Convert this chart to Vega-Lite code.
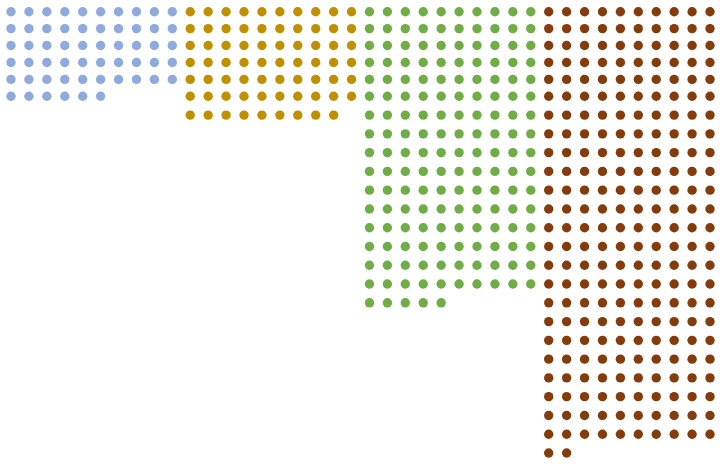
{
  "$schema": "https://vega.github.io/schema/vega-lite/v6.json",
  "description": "Waffle-style dot chart, one dot per unit, four groups of ten columns.",
  "width": 724,
  "height": 471,
  "autosize": "none",
  "padding": 0,
  "background": "white",
  "config": {"view": {"stroke": null}},
  "data": {
    "values": [
      {"group":"A"},{"group":"A"},{"group":"A"},{"group":"A"},{"group":"A"},{"group":"A"},{"group":"A"},{"group":"A"},{"group":"A"},{"group":"A"},
      {"group":"A"},{"group":"A"},{"group":"A"},{"group":"A"},{"group":"A"},{"group":"A"},{"group":"A"},{"group":"A"},{"group":"A"},{"group":"A"},
      {"group":"A"},{"group":"A"},{"group":"A"},{"group":"A"},{"group":"A"},{"group":"A"},{"group":"A"},{"group":"A"},{"group":"A"},{"group":"A"},
      {"group":"A"},{"group":"A"},{"group":"A"},{"group":"A"},{"group":"A"},{"group":"A"},{"group":"A"},{"group":"A"},{"group":"A"},{"group":"A"},
      {"group":"A"},{"group":"A"},{"group":"A"},{"group":"A"},{"group":"A"},{"group":"A"},{"group":"A"},{"group":"A"},{"group":"A"},{"group":"A"},
      {"group":"A"},{"group":"A"},{"group":"A"},{"group":"A"},{"group":"A"},{"group":"A"},

      {"group":"B"},{"group":"B"},{"group":"B"},{"group":"B"},{"group":"B"},{"group":"B"},{"group":"B"},{"group":"B"},{"group":"B"},{"group":"B"},
      {"group":"B"},{"group":"B"},{"group":"B"},{"group":"B"},{"group":"B"},{"group":"B"},{"group":"B"},{"group":"B"},{"group":"B"},{"group":"B"},
      {"group":"B"},{"group":"B"},{"group":"B"},{"group":"B"},{"group":"B"},{"group":"B"},{"group":"B"},{"group":"B"},{"group":"B"},{"group":"B"},
      {"group":"B"},{"group":"B"},{"group":"B"},{"group":"B"},{"group":"B"},{"group":"B"},{"group":"B"},{"group":"B"},{"group":"B"},{"group":"B"},
      {"group":"B"},{"group":"B"},{"group":"B"},{"group":"B"},{"group":"B"},{"group":"B"},{"group":"B"},{"group":"B"},{"group":"B"},{"group":"B"},
      {"group":"B"},{"group":"B"},{"group":"B"},{"group":"B"},{"group":"B"},{"group":"B"},{"group":"B"},{"group":"B"},{"group":"B"},{"group":"B"},
      {"group":"B"},{"group":"B"},{"group":"B"},{"group":"B"},{"group":"B"},{"group":"B"},{"group":"B"},{"group":"B"},{"group":"B"},

      {"group":"C"},{"group":"C"},{"group":"C"},{"group":"C"},{"group":"C"},{"group":"C"},{"group":"C"},{"group":"C"},{"group":"C"},{"group":"C"},
      {"group":"C"},{"group":"C"},{"group":"C"},{"group":"C"},{"group":"C"},{"group":"C"},{"group":"C"},{"group":"C"},{"group":"C"},{"group":"C"},
      {"group":"C"},{"group":"C"},{"group":"C"},{"group":"C"},{"group":"C"},{"group":"C"},{"group":"C"},{"group":"C"},{"group":"C"},{"group":"C"},
      {"group":"C"},{"group":"C"},{"group":"C"},{"group":"C"},{"group":"C"},{"group":"C"},{"group":"C"},{"group":"C"},{"group":"C"},{"group":"C"},
      {"group":"C"},{"group":"C"},{"group":"C"},{"group":"C"},{"group":"C"},{"group":"C"},{"group":"C"},{"group":"C"},{"group":"C"},{"group":"C"},
      {"group":"C"},{"group":"C"},{"group":"C"},{"group":"C"},{"group":"C"},{"group":"C"},{"group":"C"},{"group":"C"},{"group":"C"},{"group":"C"},
      {"group":"C"},{"group":"C"},{"group":"C"},{"group":"C"},{"group":"C"},{"group":"C"},{"group":"C"},{"group":"C"},{"group":"C"},{"group":"C"},
      {"group":"C"},{"group":"C"},{"group":"C"},{"group":"C"},{"group":"C"},{"group":"C"},{"group":"C"},{"group":"C"},{"group":"C"},{"group":"C"},
      {"group":"C"},{"group":"C"},{"group":"C"},{"group":"C"},{"group":"C"},{"group":"C"},{"group":"C"},{"group":"C"},{"group":"C"},{"group":"C"},
      {"group":"C"},{"group":"C"},{"group":"C"},{"group":"C"},{"group":"C"},{"group":"C"},{"group":"C"},{"group":"C"},{"group":"C"},{"group":"C"},
      {"group":"C"},{"group":"C"},{"group":"C"},{"group":"C"},{"group":"C"},{"group":"C"},{"group":"C"},{"group":"C"},{"group":"C"},{"group":"C"},
      {"group":"C"},{"group":"C"},{"group":"C"},{"group":"C"},{"group":"C"},{"group":"C"},{"group":"C"},{"group":"C"},{"group":"C"},{"group":"C"},
      {"group":"C"},{"group":"C"},{"group":"C"},{"group":"C"},{"group":"C"},{"group":"C"},{"group":"C"},{"group":"C"},{"group":"C"},{"group":"C"},
      {"group":"C"},{"group":"C"},{"group":"C"},{"group":"C"},{"group":"C"},{"group":"C"},{"group":"C"},{"group":"C"},{"group":"C"},{"group":"C"},
      {"group":"C"},{"group":"C"},{"group":"C"},{"group":"C"},{"group":"C"},{"group":"C"},{"group":"C"},{"group":"C"},{"group":"C"},{"group":"C"},
      {"group":"C"},{"group":"C"},{"group":"C"},{"group":"C"},{"group":"C"},{"group":"C"},{"group":"C"},{"group":"C"},{"group":"C"},{"group":"C"},
      {"group":"C"},{"group":"C"},{"group":"C"},{"group":"C"},{"group":"C"},

      {"group":"D"},{"group":"D"},{"group":"D"},{"group":"D"},{"group":"D"},{"group":"D"},{"group":"D"},{"group":"D"},{"group":"D"},{"group":"D"},
      {"group":"D"},{"group":"D"},{"group":"D"},{"group":"D"},{"group":"D"},{"group":"D"},{"group":"D"},{"group":"D"},{"group":"D"},{"group":"D"},
      {"group":"D"},{"group":"D"},{"group":"D"},{"group":"D"},{"group":"D"},{"group":"D"},{"group":"D"},{"group":"D"},{"group":"D"},{"group":"D"},
      {"group":"D"},{"group":"D"},{"group":"D"},{"group":"D"},{"group":"D"},{"group":"D"},{"group":"D"},{"group":"D"},{"group":"D"},{"group":"D"},
      {"group":"D"},{"group":"D"},{"group":"D"},{"group":"D"},{"group":"D"},{"group":"D"},{"group":"D"},{"group":"D"},{"group":"D"},{"group":"D"},
      {"group":"D"},{"group":"D"},{"group":"D"},{"group":"D"},{"group":"D"},{"group":"D"},{"group":"D"},{"group":"D"},{"group":"D"},{"group":"D"},
      {"group":"D"},{"group":"D"},{"group":"D"},{"group":"D"},{"group":"D"},{"group":"D"},{"group":"D"},{"group":"D"},{"group":"D"},{"group":"D"},
      {"group":"D"},{"group":"D"},{"group":"D"},{"group":"D"},{"group":"D"},{"group":"D"},{"group":"D"},{"group":"D"},{"group":"D"},{"group":"D"},
      {"group":"D"},{"group":"D"},{"group":"D"},{"group":"D"},{"group":"D"},{"group":"D"},{"group":"D"},{"group":"D"},{"group":"D"},{"group":"D"},
      {"group":"D"},{"group":"D"},{"group":"D"},{"group":"D"},{"group":"D"},{"group":"D"},{"group":"D"},{"group":"D"},{"group":"D"},{"group":"D"},
      {"group":"D"},{"group":"D"},{"group":"D"},{"group":"D"},{"group":"D"},{"group":"D"},{"group":"D"},{"group":"D"},{"group":"D"},{"group":"D"},
      {"group":"D"},{"group":"D"},{"group":"D"},{"group":"D"},{"group":"D"},{"group":"D"},{"group":"D"},{"group":"D"},{"group":"D"},{"group":"D"},
      {"group":"D"},{"group":"D"},{"group":"D"},{"group":"D"},{"group":"D"},{"group":"D"},{"group":"D"},{"group":"D"},{"group":"D"},{"group":"D"},
      {"group":"D"},{"group":"D"},{"group":"D"},{"group":"D"},{"group":"D"},{"group":"D"},{"group":"D"},{"group":"D"},{"group":"D"},{"group":"D"},
      {"group":"D"},{"group":"D"},{"group":"D"},{"group":"D"},{"group":"D"},{"group":"D"},{"group":"D"},{"group":"D"},{"group":"D"},{"group":"D"},
      {"group":"D"},{"group":"D"},{"group":"D"},{"group":"D"},{"group":"D"},{"group":"D"},{"group":"D"},{"group":"D"},{"group":"D"},{"group":"D"},
      {"group":"D"},{"group":"D"},{"group":"D"},{"group":"D"},{"group":"D"},{"group":"D"},{"group":"D"},{"group":"D"},{"group":"D"},{"group":"D"},
      {"group":"D"},{"group":"D"},{"group":"D"},{"group":"D"},{"group":"D"},{"group":"D"},{"group":"D"},{"group":"D"},{"group":"D"},{"group":"D"},
      {"group":"D"},{"group":"D"},{"group":"D"},{"group":"D"},{"group":"D"},{"group":"D"},{"group":"D"},{"group":"D"},{"group":"D"},{"group":"D"},
      {"group":"D"},{"group":"D"},{"group":"D"},{"group":"D"},{"group":"D"},{"group":"D"},{"group":"D"},{"group":"D"},{"group":"D"},{"group":"D"},
      {"group":"D"},{"group":"D"},{"group":"D"},{"group":"D"},{"group":"D"},{"group":"D"},{"group":"D"},{"group":"D"},{"group":"D"},{"group":"D"},
      {"group":"D"},{"group":"D"},{"group":"D"},{"group":"D"},{"group":"D"},{"group":"D"},{"group":"D"},{"group":"D"},{"group":"D"},{"group":"D"},
      {"group":"D"},{"group":"D"},{"group":"D"},{"group":"D"},{"group":"D"},{"group":"D"},{"group":"D"},{"group":"D"},{"group":"D"},{"group":"D"},
      {"group":"D"},{"group":"D"},{"group":"D"},{"group":"D"},{"group":"D"},{"group":"D"},{"group":"D"},{"group":"D"},{"group":"D"},{"group":"D"},
      {"group":"D"},{"group":"D"}
    ]
  },
  "transform": [
    {"window": [{"op": "row_number", "as": "n"}], "groupby": ["group"]},
    {"calculate": "indexof(['A','B','C','D'], datum.group) * 10 + (datum.n - 1) % 10", "as": "col"},
    {"calculate": "floor((datum.n - 1) / 10)", "as": "row"}
  ],
  "mark": {"type": "circle", "size": 88, "opacity": 1},
  "encoding": {
    "x": {
      "field": "col",
      "type": "quantitative",
      "axis": null,
      "scale": {"domain": [0, 39], "range": [11, 710], "nice": false, "zero": false}
    },
    "y": {
      "field": "row",
      "type": "quantitative",
      "axis": null,
      "scale": {"domain": [0, 5, 24], "range": [11.7, 96.3, 453], "nice": false, "zero": false}
    },
    "color": {
      "field": "group",
      "type": "nominal",
      "legend": null,
      "scale": {"domain": ["A", "B", "C", "D"], "range": ["#8faadc", "#bf9000", "#70ad47", "#843c0c"]}
    }
  }
}
